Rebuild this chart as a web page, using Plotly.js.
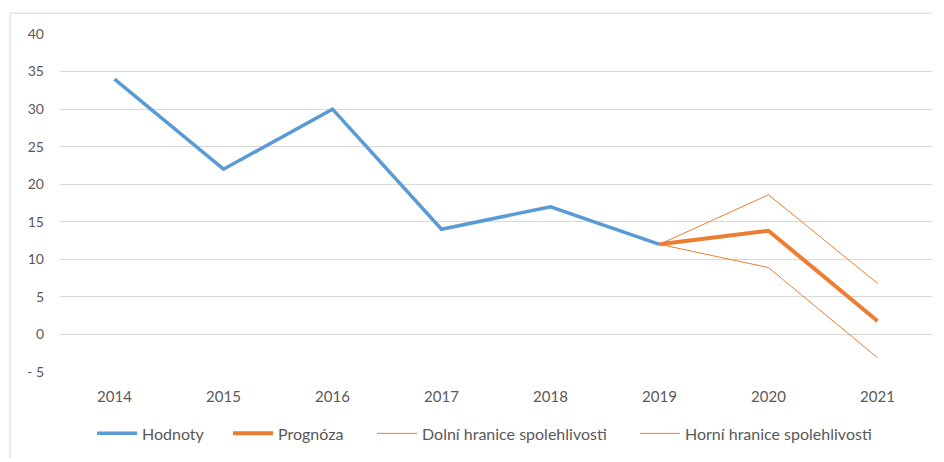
<!DOCTYPE html>
<html>
<head>
<meta charset="utf-8">
<script src="https://cdn.plot.ly/plotly-3.0.1.min.js"></script>
<style>html,body{margin:0;padding:0;background:#fff;}#chart{width:944px;height:462px;}</style>
</head>
<body>
<div id="chart"></div>
<script>
const years = ['2014','2015','2016','2017','2018','2019','2020','2021'];
const hodnoty = [34, 22, 30, 14, 17, 12, null, null];
const prognoza = [null, null, null, null, null, 12, 13.8, 1.8];
const dolni = [null, null, null, null, null, 12, 8.9, -3.1];
const horni = [null, null, null, null, null, 12, 18.6, 6.8];
const yTicks = [-5, 0, 5, 10, 15, 20, 25, 30, 35, 40];
const yTickText = ['- 5', '0', '5', '10', '15', '20', '25', '30', '35', '40'];

const blue = '#5B9BD5', orange = '#ED7D31';
const traces = [
  {x: years, y: hodnoty, name: 'Hodnoty', legend: 'legend', mode: 'lines', line: {color: blue, width: 3.5}},
  {x: years, y: prognoza, name: 'Prognóza', legend: 'legend2', mode: 'lines', line: {color: orange, width: 4}},
  {x: years, y: dolni, name: 'Dolní hranice spolehlivosti', legend: 'legend3', mode: 'lines', line: {color: orange, width: 1}},
  {x: years, y: horni, name: 'Horní hranice spolehlivosti', legend: 'legend4', mode: 'lines', line: {color: orange, width: 1}}
];

const shapes = [
  {type: 'line', xref: 'paper', yref: 'paper', x0: -0.0573, x1: 1.0, y0: 1.0616, y1: 1.0616, line: {color: '#E6E6E6', width: 1.5}},
  {type: 'line', xref: 'paper', yref: 'paper', x0: -0.0573, x1: -0.0573, y0: 1.0616, y1: -0.255, line: {color: '#E6E6E6', width: 1.5}}
];

function px2paper(p) { return (p - 60) / 872; }
const legFont = {size: 16, color: '#595959'};
function leg(px) {
  return {orientation: 'h', x: px2paper(px), xanchor: 'left', y: -0.1818, yanchor: 'middle', font: legFont, itemwidth: 40, bgcolor: 'rgba(0,0,0,0)'};
}

const layout = {
  width: 944, height: 462,
  margin: {l: 60, r: 12, t: 34, b: 87},
  paper_bgcolor: '#fff', plot_bgcolor: '#fff',
  font: {family: 'Lato, "Noto Sans", sans-serif', size: 14, color: '#595959'},
  showlegend: true,
  legend: leg(92),
  legend2: leg(228),
  legend3: leg(372),
  legend4: leg(635),
  xaxis: {type: 'category', range: [-0.5, 7.5], showgrid: false, zeroline: false, showline: false, ticks: '', ticklabelstandoff: 14, tickfont: {size: 15, color: '#595959'}, fixedrange: true},
  yaxis: {range: [-5, 40], tickvals: yTicks, ticktext: yTickText, showgrid: true, gridcolor: '#D9D9D9', gridwidth: 1, zeroline: false, showline: false, ticks: '', ticklabelstandoff: 15, tickfont: {size: 14, color: '#595959'}, fixedrange: true},
  shapes: shapes
};

Plotly.newPlot('chart', traces, layout, {displayModeBar: false, staticPlot: true});
</script>
</body>
</html>
